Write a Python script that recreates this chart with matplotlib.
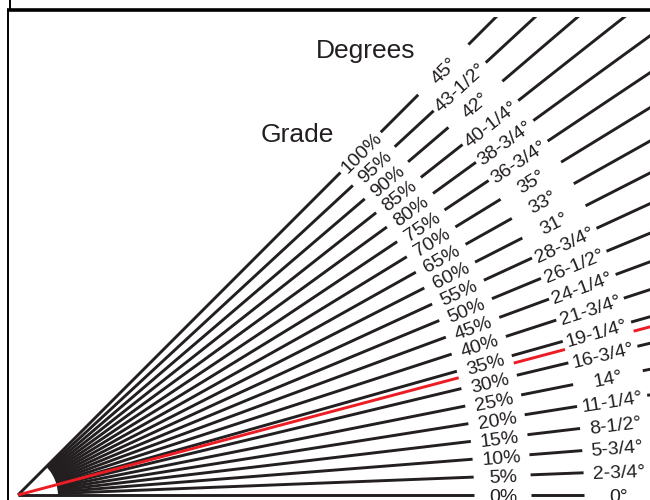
import numpy as np
import matplotlib
matplotlib.use("Agg")
import matplotlib.pyplot as plt
from matplotlib.patches import Rectangle

# ---- data ----
grades = [0, 5, 10, 15, 20, 25, 30, 35, 40, 45, 50, 55, 60, 65, 70, 75, 80, 85, 90, 95, 100]
degree_labels = ["0°", "2-3/4°", "5-3/4°", "8-1/2°", "11-1/4°", "14°", "16-3/4°", "19-1/4°",
                 "21-3/4°", "24-1/4°", "26-1/2°", "28-3/4°", "31°", "33°", "35°", "36-3/4°",
                 "38-3/4°", "40-1/4°", "42°", "43-1/2°", "45°"]
grade_labels = [f"{g}%" for g in grades]
red_angle = 14.9          # highlighted example line (degrees, as drawn)
fan_max_angle = 45.0      # schematic: lines drawn evenly spaced up to 45°

# ---- style ----
INK = "#231f20"
RED = "#ed1c24"
FONT = "Liberation Sans"
LW = 2.1
r_start_inner = 40
r_far = 1200
grade_gap = (456, 513)
deg_gap = (566, 637)
r_grade = 485
r_deg = 601

fig = plt.figure(figsize=(6.5, 5), dpi=100)
ax = fig.add_axes([0, 0, 1, 1])
ax.set_xlim(-18, 632)
ax.set_ylim(-5, 495)
ax.set_aspect("equal")
ax.axis("off")

clip = Rectangle((-18, -5), 650, 483, transform=ax.transData, facecolor="none", edgecolor="none")
ax.add_patch(clip)


def draw_ray(theta_deg, r0, color):
    t = np.radians(theta_deg)
    segs = [(r0, grade_gap[0]), (grade_gap[1], deg_gap[0]), (deg_gap[1], r_far)]
    for a, b in segs:
        ln, = ax.plot([a * np.cos(t), b * np.cos(t)], [a * np.sin(t), b * np.sin(t)],
                      color=color, lw=LW, solid_capstyle="butt")
        ln.set_clip_path(clip)


n = len(grades)
angles = [i * fan_max_angle / (n - 1) for i in range(n)]
for i, ang in enumerate(angles):
    r0 = 0 if i in (0, n - 1) else r_start_inner
    draw_ray(ang, r0, INK)
    t = np.radians(ang)
    ax.text(r_grade * np.cos(t), r_grade * np.sin(t), grade_labels[i], rotation=ang,
            rotation_mode="anchor", ha="center", va="center_baseline", fontsize=14,
            family=FONT, color=INK)
    ax.text(r_deg * np.cos(t), r_deg * np.sin(t), degree_labels[i], rotation=ang,
            rotation_mode="anchor", ha="center", va="center_baseline", fontsize=14,
            family=FONT, color=INK)

draw_ray(red_angle, 0, RED)

ax.text(348, 437, "Degrees", ha="center", va="baseline", fontsize=19, family=FONT, color=INK)
ax.text(279, 353, "Grade", ha="center", va="baseline", fontsize=19, family=FONT, color=INK)

# frame pieces
ax.plot([-11, 640], [485, 485], color="black", lw=2.6, solid_capstyle="butt", clip_on=False)
ax.plot([-10.5, -10.5], [486, -10], color="black", lw=1.4, solid_capstyle="butt", clip_on=False)
ax.plot([-7.7, -7.7], [486, 500], color="black", lw=1.4, solid_capstyle="butt", clip_on=False)

fig.savefig("out.png", dpi=100)
